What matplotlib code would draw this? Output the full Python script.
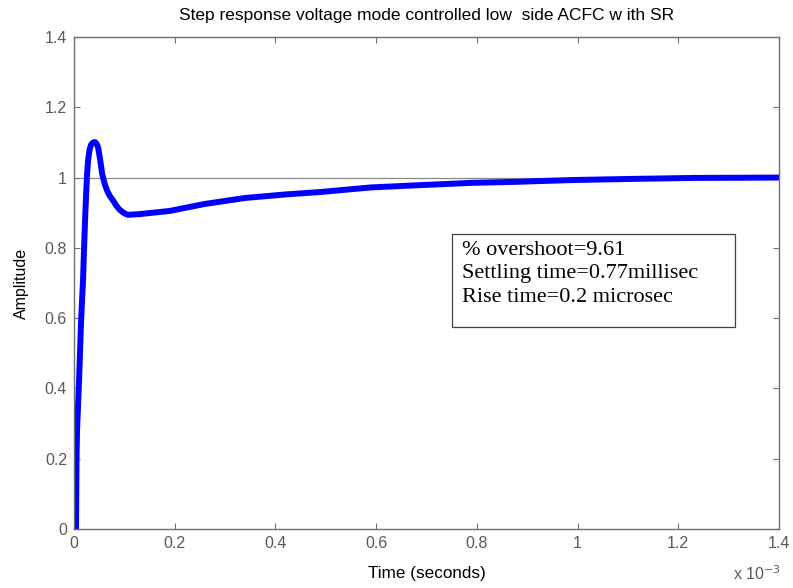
import matplotlib
matplotlib.use("Agg")
import matplotlib.pyplot as plt
from matplotlib.ticker import FuncFormatter
from matplotlib.patches import Rectangle

# ---- data (time in milliseconds, amplitude) ----
time_ms = [0.004, 0.005, 0.006, 0.010, 0.014, 0.018, 0.020, 0.022, 0.024, 0.026,
           0.028, 0.031, 0.034, 0.038, 0.042, 0.045, 0.048, 0.052, 0.056, 0.061,
           0.066, 0.071, 0.077, 0.084, 0.091, 0.099, 0.107, 0.130, 0.190, 0.260,
           0.340, 0.420, 0.490, 0.590, 0.680, 0.790, 0.880, 0.990, 1.100, 1.230, 1.400]
amplitude = [0.0, 0.20, 0.28, 0.42, 0.59, 0.71, 0.80, 0.88, 0.95, 1.01,
             1.05, 1.08, 1.094, 1.100, 1.101, 1.096, 1.085, 1.050, 1.010, 0.982,
             0.962, 0.948, 0.936, 0.920, 0.908, 0.899, 0.894, 0.896, 0.905, 0.925,
             0.942, 0.952, 0.959, 0.972, 0.978, 0.985, 0.988, 0.993, 0.996, 0.999, 1.0]
final_value = 1.0
x_ticks_ms = [0, 0.2, 0.4, 0.6, 0.8, 1.0, 1.2, 1.4]
y_ticks = [0, 0.2, 0.4, 0.6, 0.8, 1.0, 1.2, 1.4]
title = "Step response voltage mode controlled low  side ACFC w ith SR"
box_lines = ["% overshoot=9.61", "Settling time=0.77millisec", "Rise time=0.2 microsec"]

time_s = [t * 1e-3 for t in time_ms]

plt.rcParams['font.family'] = ['Liberation Sans', 'DejaVu Sans']
fig = plt.figure(figsize=(7.93, 5.88), dpi=100)
ax = fig.add_axes([74/793, 1-529/588, (779-74)/793, (529-37)/588])

gray = '#6e6e6e'
ax.axhline(final_value, color='#8a8a8a', lw=0.9, zorder=1)
ax.plot(time_s, amplitude, color='#0000ff', lw=4.3, solid_capstyle='round',
        solid_joinstyle='round', zorder=2)

ax.set_xlim(0, 1.4e-3)
ax.set_ylim(0, 1.4)
ax.set_xticks([t * 1e-3 for t in x_ticks_ms])
ax.set_yticks(y_ticks)
ax.xaxis.set_major_formatter(FuncFormatter(lambda v, p: f"{v*1e3:g}"))
ax.yaxis.set_major_formatter(FuncFormatter(lambda v, p: f"{v:g}"))
ax.tick_params(direction='in', top=True, right=True, length=4, width=0.8,
               colors=gray, labelcolor='#595959', labelsize=11.5, pad=5)
for s in ax.spines.values():
    s.set_color(gray)
    s.set_linewidth(1.0)

ax.set_title(title, fontsize=12.5, color='black', pad=12)
ax.set_xlabel("Time (seconds)", fontsize=12.3, color='black', labelpad=11)
ax.set_ylabel("Amplitude", fontsize=11.5, color='black', labelpad=11)

fig.text(733/793, 1-580/588, r"x 10$^{-3}$", fontsize=11.5, color='#595959',
         ha='left', va='baseline')

# annotation box
bx0 = (452-74)/705
bx1 = (735-74)/705
by0 = (529-327)/492
by1 = (529-234)/492
ax.add_patch(Rectangle((bx0, by0), bx1-bx0, by1-by0, transform=ax.transAxes,
                       fill=False, edgecolor='#404040', lw=0.9, zorder=3))
ax.text((462-74)/705, (529-241)/492, "\n".join(box_lines), transform=ax.transAxes,
        fontsize=16, family=['Liberation Serif', 'DejaVu Serif'], color='black',
        va='top', ha='left', linespacing=1.31, zorder=4)

fig.savefig("out.png", dpi=100)
